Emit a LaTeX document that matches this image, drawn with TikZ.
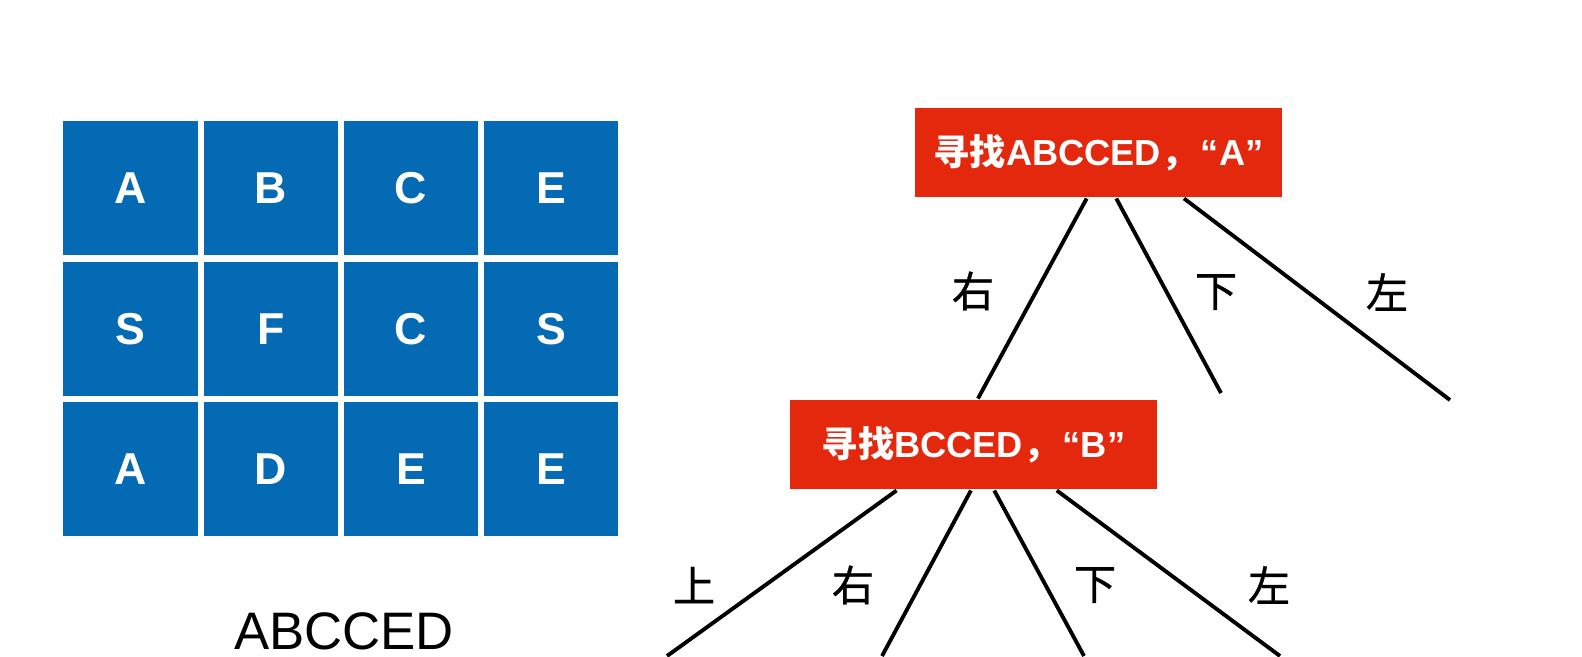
\documentclass[tikz,border=0pt]{standalone}
\usepackage{fontspec}
\setmainfont{Liberation Sans}
\newfontfamily\cjk{Noto Sans CJK SC}
\newfontfamily\cjkdir[FakeBold=0.8]{Noto Sans CJK SC}
\usetikzlibrary{calc}
\definecolor{cellblue}{RGB}{4,106,180}
\definecolor{boxred}{RGB}{228,40,14}
\newcommand{\zh}[1]{{\cjk #1}}

\begin{document}
\begin{tikzpicture}[x=0.01cm,y=-0.01cm,line width=1.1pt,
  cell/.style={fill=cellblue,text=white,inner sep=0pt,
    minimum width=1.34cm,minimum height=1.34cm,
    font=\fontsize{12.7}{15}\selectfont\bfseries},
  search node/.style={fill=boxred,text=white,inner sep=0pt,
    minimum width=3.66cm,minimum height=0.88cm,
    font=\fontsize{10.3}{12}\selectfont\bfseries},
  dir/.style={font=\cjkdir\fontsize{12}{14}\selectfont}]
  \useasboundingbox (0,0) rectangle (1582,656);

  % letter grid
  \foreach \r/\letters in {0/{A,B,C,E},1/{S,F,C,S},2/{A,D,E,E}}
    \foreach \l [count=\c from 0] in \letters
      \node[cell] (cell-\r-\c) at (130.5+140.3*\c,188+140.7*\r) {\l};
  \node[font=\fontsize{15}{18}\selectfont,anchor=base,inner sep=0pt] (word) at (344,649) {ABCCED};

  % search tree
  \node[search node] (1) at (1098.5,152.5) {\zh{寻找}ABCCED\zh{，}\hspace{0.1em}“A”};
  \node[search node] (2) at (973.5,444.5) {\zh{寻找}BCCED\zh{，}\hspace{0.1em}“B”};

  \coordinate (1d) at (1221,393);
  \coordinate (1l) at (1450,400);
  \coordinate (2u) at (667,656);
  \coordinate (2r) at (882,656);
  \coordinate (2d) at (1084,656);
  \coordinate (2l) at (1280,656);

  \draw ($(1.south west)!.468!(1.south east)$) -- ($(2.north west)!.512!(2.north east)$);
  \draw ($(1.south west)!.548!(1.south east)$) -- (1d);
  \draw ($(1.south west)!.731!(1.south east)$) -- (1l);
  \draw ($(2.south west)!.292!(2.south east)$) -- (2u);
  \draw ($(2.south west)!.493!(2.south east)$) -- (2r);
  \draw ($(2.south west)!.556!(2.south east)$) -- (2d);
  \draw ($(2.south west)!.725!(2.south east)$) -- (2l);

  \node[dir] (1r-label) at (973,291) {右};
  \node[dir] (1d-label) at (1216,292) {下};
  \node[dir] (1l-label) at (1387,292) {左};
  \node[dir] (2u-label) at (694,585) {上};
  \node[dir] (2r-label) at (853,585) {右};
  \node[dir] (2d-label) at (1095,585) {下};
  \node[dir] (2l-label) at (1269,585) {左};
\end{tikzpicture}
\end{document}
